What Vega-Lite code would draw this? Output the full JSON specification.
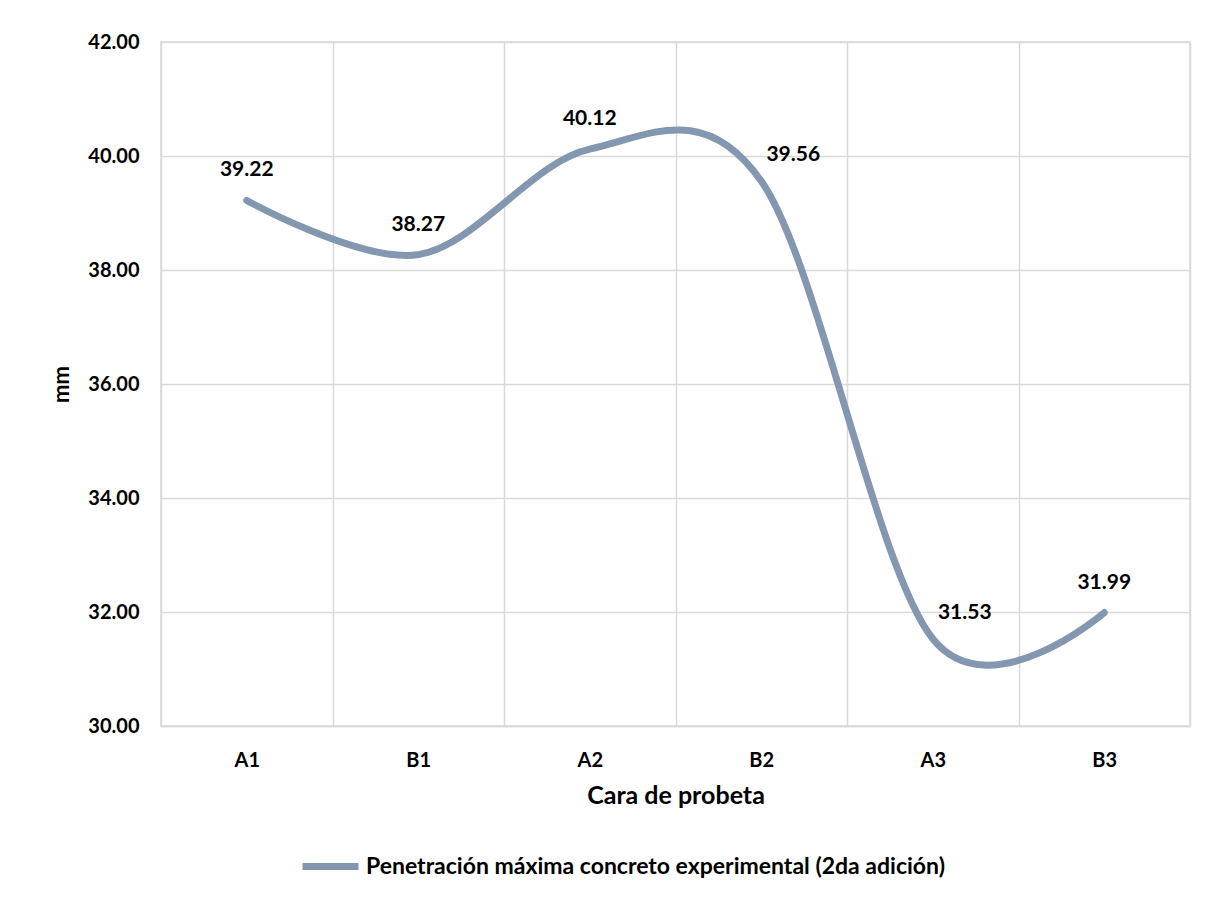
{
  "$schema": "https://vega.github.io/schema/vega-lite/v6.json",
  "width": 1029,
  "height": 684,
  "autosize": {"type": "none"},
  "padding": {"left": 161, "top": 42, "right": 19, "bottom": 172},
  "background": "white",
  "data": {
    "values": [
      {"cara": "A1", "mm": 39.22, "serie": "Penetración máxima concreto experimental (2da adición)"},
      {"cara": "B1", "mm": 38.27, "serie": "Penetración máxima concreto experimental (2da adición)"},
      {"cara": "A2", "mm": 40.12, "serie": "Penetración máxima concreto experimental (2da adición)"},
      {"cara": "B2", "mm": 39.56, "serie": "Penetración máxima concreto experimental (2da adición)"},
      {"cara": "A3", "mm": 31.53, "serie": "Penetración máxima concreto experimental (2da adición)"},
      {"cara": "B3", "mm": 31.99, "serie": "Penetración máxima concreto experimental (2da adición)"}
    ]
  },
  "encoding": {
    "x": {
      "field": "cara",
      "type": "nominal",
      "sort": null,
      "bandPosition": 0.5,
      "scale": {"type": "band", "paddingInner": 0, "paddingOuter": 0},
      "axis": {
        "title": "Cara de probeta",
        "labelAngle": 0,
        "tickBand": "extent",
        "grid": true,
        "ticks": false,
        "labelPadding": 24,
        "titlePadding": 13,
        "titleFontSize": 25
      }
    },
    "y": {
      "field": "mm",
      "type": "quantitative",
      "scale": {"domain": [30, 42], "nice": false, "zero": false},
      "axis": {
        "title": "mm",
        "values": [30, 32, 34, 36, 38, 40, 42],
        "format": ".2f",
        "ticks": false,
        "domain": false,
        "labelPadding": 22,
        "titlePadding": 14
      }
    }
  },
  "layer": [
    {
      "mark": {"type": "line", "interpolate": "cardinal", "tension": 0, "strokeWidth": 7, "strokeCap": "round", "strokeJoin": "round"},
      "encoding": {
        "color": {
          "field": "serie",
          "type": "nominal",
          "scale": {"range": ["#8497B0"]},
          "legend": {
            "title": null,
            "orient": "none",
            "legendX": 138,
            "legendY": 793,
            "symbolType": "stroke",
            "symbolSize": 3136,
            "symbolStrokeWidth": 7,
            "labelOffset": 4,
            "labelFontSize": 23,
            "labelFont": "Lato",
            "labelFontWeight": "bold",
            "labelColor": "#000000",
            "labelLimit": 1000
          }
        }
      }
    },
    {
      "transform": [{"filter": "datum.cara !== 'B2' && datum.cara !== 'A3'"}],
      "mark": {"type": "text", "dy": -30, "font": "Lato", "fontWeight": "bold", "fontSize": 21, "color": "#000000"},
      "encoding": {"text": {"field": "mm", "type": "quantitative", "format": ".2f"}}
    },
    {
      "transform": [{"filter": "datum.cara === 'B2' || datum.cara === 'A3'"}],
      "mark": {"type": "text", "dx": 32, "dy": -26, "font": "Lato", "fontWeight": "bold", "fontSize": 21, "color": "#000000"},
      "encoding": {"text": {"field": "mm", "type": "quantitative", "format": ".2f"}}
    }
  ],
  "config": {
    "view": {"stroke": "#D9D9D9", "strokeWidth": 1.5},
    "axis": {
      "gridColor": "#D9D9D9",
      "gridWidth": 1.5,
      "domainColor": "#D9D9D9",
      "domainWidth": 1.5,
      "labelFont": "Lato",
      "labelFontWeight": "bold",
      "labelFontSize": 20,
      "labelColor": "#000000",
      "titleFont": "Lato",
      "titleFontWeight": "bold",
      "titleFontSize": 22,
      "titleColor": "#000000"
    }
  }
}
